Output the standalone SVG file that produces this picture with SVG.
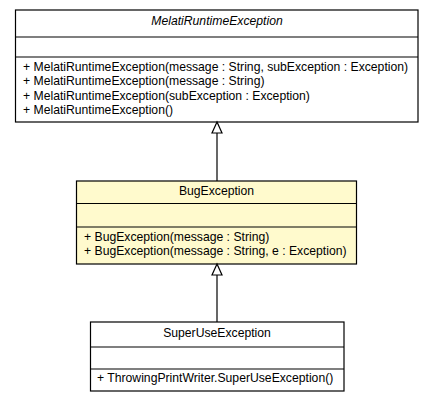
<svg xmlns="http://www.w3.org/2000/svg" width="435" height="403" viewBox="0 0 435 403">
<style>
.box{fill:#ffffff;stroke:#000000;stroke-width:1.2}
.hl{fill:#fffacd}
.sep{stroke:#000000;stroke-width:1.2}
text{font-family:"Liberation Sans",Arial,sans-serif;font-size:12.2px;fill:#000000}
.c{text-anchor:middle}
.i{font-style:italic}
.edge{stroke:#000000;stroke-width:1.2;fill:none}
.head{fill:#ffffff;stroke:#000000;stroke-width:1.2}
</style>
<rect width="435" height="403" fill="#ffffff"/>
<g id="MelatiRuntimeException">
<rect class="box" x="15.5" y="10" width="402.5" height="112"/>
<line class="sep" x1="15.5" y1="37" x2="418" y2="37"/>
<line class="sep" x1="15.5" y1="57" x2="418" y2="57"/>
<text class="c i" x="217" y="25">MelatiRuntimeException</text>
<text x="23" y="70.5">+ MelatiRuntimeException(message : String, subException : Exception)</text>
<text x="23" y="85">+ MelatiRuntimeException(message : String)</text>
<text x="23" y="99.5">+ MelatiRuntimeException(subException : Exception)</text>
<text x="23" y="114">+ MelatiRuntimeException()</text>
</g>
<g id="BugException">
<rect class="box hl" x="76.5" y="181" width="280" height="83"/>
<line class="sep" x1="76.5" y1="203.5" x2="356.5" y2="203.5"/>
<line class="sep" x1="76.5" y1="227" x2="356.5" y2="227"/>
<text class="c" x="216.5" y="195">BugException</text>
<text x="84" y="240.5">+ BugException(message : String)</text>
<text x="84" y="255">+ BugException(message : String, e : Exception)</text>
</g>
<g id="SuperUseException">
<rect class="box" x="90.5" y="322" width="253.5" height="69"/>
<line class="sep" x1="90.5" y1="347" x2="344" y2="347"/>
<line class="sep" x1="90.5" y1="369" x2="344" y2="369"/>
<text class="c" x="217" y="337">SuperUseException</text>
<text x="97" y="382">+ ThrowingPrintWriter.SuperUseException()</text>
</g>
<g id="connectors">
<line class="edge" x1="217" y1="133" x2="217" y2="181"/>
<polygon class="head" points="217,122 212,133 222,133"/>
<line class="edge" x1="217" y1="275" x2="217" y2="322"/>
<polygon class="head" points="217,264 212,275 222,275"/>
</g>
</svg>
